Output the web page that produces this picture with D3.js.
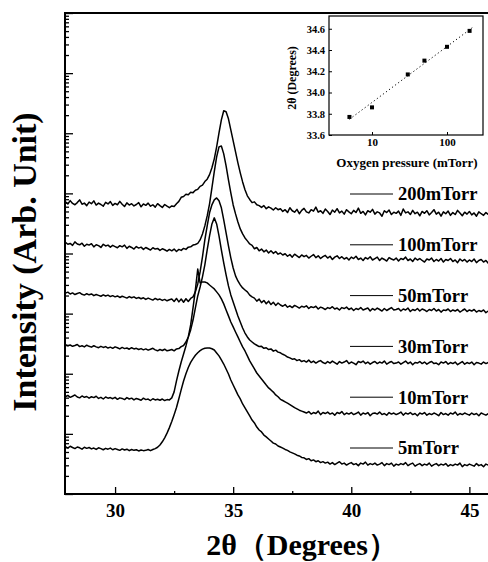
<!DOCTYPE html>
<html>
<head>
<meta charset="utf-8">
<script src="https://cdn.jsdelivr.net/npm/d3@7"></script>
<style>
  body { margin: 0; background: #fff; }
  svg text { font-family: "Liberation Serif", "Times New Roman", serif; font-weight: bold; fill: #000; }
</style>
</head>
<body>
<svg id="chart" width="488" height="562"></svg>
<script>
'use strict';

// 2theta grid (degrees), step 0.1, shared by all scans
const twoTheta = [
  27.9, 28.0, 28.1, 28.2, 28.3, 28.4, 28.5, 28.6, 28.7, 28.8,
  28.9, 29.0, 29.1, 29.2, 29.3, 29.4, 29.5, 29.6, 29.7, 29.8,
  29.9, 30.0, 30.1, 30.2, 30.3, 30.4, 30.5, 30.6, 30.7, 30.8,
  30.9, 31.0, 31.1, 31.2, 31.3, 31.4, 31.5, 31.6, 31.7, 31.8,
  31.9, 32.0, 32.1, 32.2, 32.3, 32.4, 32.5, 32.6, 32.7, 32.8,
  32.9, 33.0, 33.1, 33.2, 33.3, 33.4, 33.5, 33.6, 33.7, 33.8,
  33.9, 34.0, 34.1, 34.2, 34.3, 34.4, 34.5, 34.6, 34.7, 34.8,
  34.9, 35.0, 35.1, 35.2, 35.3, 35.4, 35.5, 35.6, 35.7, 35.8,
  35.9, 36.0, 36.1, 36.2, 36.3, 36.4, 36.5, 36.6, 36.7, 36.8,
  36.9, 37.0, 37.1, 37.2, 37.3, 37.4, 37.5, 37.6, 37.7, 37.8,
  37.9, 38.0, 38.1, 38.2, 38.3, 38.4, 38.5, 38.6, 38.7, 38.8,
  38.9, 39.0, 39.1, 39.2, 39.3, 39.4, 39.5, 39.6, 39.7, 39.8,
  39.9, 40.0, 40.1, 40.2, 40.3, 40.4, 40.5, 40.6, 40.7, 40.8,
  40.9, 41.0, 41.1, 41.2, 41.3, 41.4, 41.5, 41.6, 41.7, 41.8,
  41.9, 42.0, 42.1, 42.2, 42.3, 42.4, 42.5, 42.6, 42.7, 42.8,
  42.9, 43.0, 43.1, 43.2, 43.3, 43.4, 43.5, 43.6, 43.7, 43.8,
  43.9, 44.0, 44.1, 44.2, 44.3, 44.4, 44.5, 44.6, 44.7, 44.8,
  44.9, 45.0, 45.1, 45.2, 45.3, 45.4, 45.5, 45.6, 45.7, 45.8,
  45.9, 46.0
];

// intensity of each scan (counts), before the vertical offset
// rows: 27.9-32.3 | 32.4-36.9 | 37.0-46.0
const i200 = [
  104, 96, 109, 98, 93, 101, 112, 95, 99, 90, 103, 97, 108, 92, 99, 94, 88, 102, 96, 105,
  91, 98, 93, 106, 95, 87, 100, 92, 97, 89, 94, 101, 86, 96, 91, 99, 88, 93, 85, 97,
  90, 84, 94, 88, 83,
  89, 87, 97, 106, 124, 128, 139, 136, 150, 148, 162, 168, 188, 197, 226, 248, 295, 383, 540, 855, 1460, 2400,
  3400, 3270, 2500, 1640, 1075, 705, 464, 316, 223, 165, 131, 114, 101, 104, 93, 90, 84, 90, 80, 86, 82, 76, 83, 77,
  80, 72, 77, 69, 83, 74, 70, 78, 66, 75, 81, 71, 68, 77, 73, 85, 70, 74, 67, 79,
  72, 64, 76, 70, 80, 68, 73, 65, 77, 71, 66, 75, 69, 82, 67, 72, 63, 74, 70, 78,
  65, 71, 68, 60, 74, 69, 76, 64, 70, 67, 73, 62, 79, 68, 71, 64, 75, 66, 70, 61,
  72, 67, 74, 63, 69, 77, 65, 70, 60, 71, 66, 73, 62, 69, 64, 75, 68, 61, 70, 65,
  72, 63, 68, 60, 71, 66, 62, 69, 64, 67, 63
];
const i100 = [
  102, 95, 98, 91, 104, 96, 93, 99, 88, 95, 92, 97, 86, 93, 90, 84, 95, 89, 92, 85,
  91, 87, 83, 90, 86, 92, 81, 88, 84, 79, 87, 82, 85, 78, 84, 80, 76, 83, 79, 81,
  75, 80, 77, 73, 78,
  74, 79, 72, 78, 75, 81, 78, 85, 86, 92, 94, 98, 112, 141, 192, 281, 446, 823, 1530, 2700, 3950, 4100,
  3030, 1910, 1120, 680, 428, 304, 223, 171, 141, 121, 108, 96, 91, 80, 84, 74, 79, 71, 76, 68, 74, 67, 72, 65,
  68, 63, 66, 60, 64, 58, 65, 61, 57, 63, 59, 62, 56, 60, 64, 57, 61, 55, 59, 62,
  56, 60, 53, 58, 61, 55, 59, 54, 57, 52, 58, 55, 60, 53, 56, 51, 57, 54, 59, 52,
  55, 58, 51, 56, 53, 50, 57, 54, 52, 56, 50, 55, 53, 58, 51, 54, 49, 56, 52, 55,
  51, 48, 54, 52, 56, 49, 53, 50, 55, 48, 53, 51, 55, 49, 52, 47, 54, 50, 53, 48,
  52, 49, 54, 47, 51, 53, 48, 51, 46, 52, 49
];
const i50 = [
  99, 103, 96, 100, 94, 98, 101, 95, 92, 97, 93, 96, 90, 94, 91, 88, 93, 89, 92, 87,
  90, 86, 89, 84, 88, 85, 82, 87, 83, 86, 81, 84, 80, 83, 78, 82, 79, 76, 81, 77,
  79, 75, 78, 74, 77,
  79, 72, 81, 71, 79, 70, 80, 72, 81, 86, 104, 141, 223, 397, 762, 1300, 2150, 2920, 3530, 3800, 3400, 2600,
  1640, 1000, 605, 383, 260, 192, 158, 136, 121, 112, 104, 92, 86, 82, 73, 79, 69, 75, 66, 73, 64, 70, 62, 68,
  63, 60, 64, 58, 61, 57, 62, 59, 56, 60, 58, 61, 55, 59, 57, 60, 54, 58, 56, 53,
  57, 55, 59, 54, 56, 52, 57, 55, 58, 53, 56, 51, 55, 53, 57, 52, 54, 56, 50, 55,
  52, 56, 53, 50, 55, 51, 54, 57, 52, 53, 55, 50, 54, 52, 56, 49, 53, 51, 55, 50,
  54, 52, 49, 53, 51, 55, 50, 53, 48, 52, 51, 54, 49, 52, 50, 53, 48, 51, 54, 49,
  52, 50, 53, 48, 51, 49, 52, 47, 50, 52, 49
];
const i30 = [
  101, 97, 100, 95, 98, 102, 94, 97, 93, 99, 95, 92, 97, 93, 90, 95, 91, 94, 89, 92,
  88, 93, 90, 86, 91, 87, 89, 85, 90, 86, 88, 84, 87, 83, 86, 82, 85, 88, 83, 80,
  84, 81, 85, 80, 82,
  84, 80, 86, 87, 94, 98, 112, 136, 178, 260, 413, 654, 922, 1360, 2150, 3820, 6530, 10300, 13000, 10300, 6530, 3820,
  2310, 1460, 960, 680, 520, 398, 304, 241, 192, 158, 136, 121, 112, 104, 99, 94, 95, 88, 90, 84, 86, 79, 82, 76,
  74, 70, 67, 63, 61, 58, 59, 55, 57, 53, 55, 52, 56, 51, 54, 50, 53, 55, 51, 49,
  53, 50, 54, 51, 48, 53, 50, 52, 55, 49, 52, 50, 47, 53, 51, 54, 49, 52, 48, 51,
  53, 49, 52, 50, 54, 48, 51, 53, 49, 50, 52, 48, 51, 54, 49, 52, 47, 51, 50, 53,
  49, 52, 48, 51, 53, 49, 50, 47, 52, 50, 53, 48, 51, 49, 52, 47, 50, 53, 48, 51,
  49, 52, 47, 51, 50, 48, 52, 49, 51, 47, 50
];
const i10 = [
  97, 102, 95, 99, 104, 96, 93, 100, 95, 98, 92, 97, 94, 99, 91, 95, 89, 96, 92, 94,
  90, 95, 88, 93, 91, 87, 94, 89, 92, 86, 91, 88, 85, 92, 87, 89, 84, 90, 86, 88,
  85, 89, 84, 87, 86,
  93, 117, 178, 260, 368, 500, 680, 960, 1520, 2920, 5800, 12900, 7600, 7900, 7870, 7600, 7000, 6500, 6030, 5380, 4800, 4110,
  3400, 2700, 2150, 1700, 1410, 1160, 960, 790, 654, 560, 464, 383, 328, 281, 241, 215, 192, 171, 152, 136, 126, 116, 104, 97,
  88, 84, 80, 76, 72, 68, 64, 61, 58, 56, 54, 52, 55, 50, 53, 51, 56, 49, 53, 51,
  54, 50, 52, 48, 53, 51, 55, 49, 52, 50, 53, 49, 51, 54, 48, 52, 50, 53, 47, 51,
  52, 50, 54, 49, 51, 48, 53, 50, 52, 49, 51, 54, 48, 52, 50, 53, 49, 51, 47, 52,
  50, 53, 48, 51, 49, 52, 50, 47, 53, 49, 51, 48, 52, 50, 54, 48, 51, 49, 52, 50,
  48, 52, 49, 51, 47, 52, 50, 48, 51, 49, 51
];
const i5 = [
  101, 96, 103, 98, 94, 100, 97, 92, 99, 95, 98, 93, 96, 91, 97, 94, 90, 95, 92, 96,
  90, 94, 91, 88, 93, 89, 92, 87, 91, 88, 90, 86, 89, 87, 88, 91, 87, 91, 94, 99,
  108, 122, 142, 170, 210,
  265, 345, 455, 635, 900, 1250, 1650, 2100, 2550, 2950, 3350, 3700, 4000, 4250, 4400, 4440, 4420, 4300, 4110, 3670, 3280, 2800,
  2400, 1980, 1640, 1300, 1075, 890, 735, 630, 520, 446, 383, 328, 281, 251, 215, 192, 178, 158, 147, 136, 126, 116, 112, 104,
  100, 96, 91, 88, 83, 80, 77, 73, 71, 67, 66, 62, 64, 59, 61, 57, 59, 55, 57, 54,
  56, 52, 55, 51, 54, 57, 52, 54, 50, 53, 55, 51, 53, 49, 54, 52, 56, 50, 53, 51,
  54, 50, 52, 55, 49, 53, 51, 54, 48, 52, 50, 53, 51, 55, 49, 52, 54, 48, 51, 53,
  49, 52, 50, 54, 48, 51, 53, 49, 52, 50, 53, 48, 51, 49, 52, 50, 54, 47, 51, 49,
  52, 50, 48, 53, 49, 51, 47, 52, 50, 48, 51
];

const pressureLabels = ['200mTorr', '100mTorr', '50mTorr', '30mTorr', '10mTorr', '5mTorr'];
const scans = [i200, i100, i50, i30, i10, i5];
const offsetFactor = [695, 150, 22.1, 3.01, 0.427, 0.0605];

const xTicks = [30, 35, 40, 45];
const xMinorTicks = [32.5, 37.5, 42.5];

// inset: peak position vs oxygen pressure
const insetPressure = [5, 10, 30, 50, 100, 200];
const insetPeak = [33.77, 33.86, 34.17, 34.30, 34.43, 34.58];
const insetYTicks = [33.6, 33.8, 34.0, 34.2, 34.4, 34.6];
const insetXTicks = [10, 100];

const svg = d3.select('#chart');
const plotLeft = 65, plotTop = 13, plotBottom = 494, plotRight = 493;

const x = d3.scaleLinear().domain([27.88, 46]).range([plotLeft, plotRight]);
const y = d3.scaleLog().domain([1, 1e8]).range([plotBottom, plotTop]);

svg.append('clipPath').attr('id', 'plotClip')
  .append('rect').attr('x', plotLeft).attr('y', plotTop)
  .attr('width', plotRight - plotLeft).attr('height', plotBottom - plotTop);

// scans
const line = d3.line()
  .x((d, i) => x(twoTheta[i]))
  .y(d => y(d));

const curves = svg.append('g').attr('clip-path', 'url(#plotClip)');
scans.forEach((s, k) => {
  curves.append('path')
    .attr('d', line(s.map(v => v * offsetFactor[k])))
    .attr('fill', 'none')
    .attr('stroke', '#000')
    .attr('stroke-width', 1.5)
    .attr('stroke-linejoin', 'round');
});

// axes (ticks point inward)
const yMajor = d3.range(0, 9).map(e => Math.pow(10, e));
const yMinor = y.ticks().filter(t => yMajor.indexOf(t) < 0);

svg.append('g').attr('transform', `translate(${plotLeft},0)`)
  .call(d3.axisLeft(y).tickValues(yMinor).tickSize(-4).tickFormat(''))
  .call(g => g.select('.domain').remove());
svg.append('g').attr('transform', `translate(${plotLeft},0)`)
  .call(d3.axisLeft(y).tickValues(yMajor).tickSize(-8).tickFormat(''))
  .call(g => g.select('.domain').remove());

const xAxis = svg.append('g').attr('transform', `translate(0,${plotBottom})`)
  .call(d3.axisBottom(x).tickValues(xTicks).tickSizeInner(-7).tickSizeOuter(0).tickPadding(10).tickFormat(d3.format('d')))
  .call(g => g.select('.domain').remove());
xAxis.selectAll('text').style('font-size', '19px');
svg.append('g').attr('transform', `translate(0,${plotBottom})`)
  .call(d3.axisBottom(x).tickValues(xMinorTicks).tickSize(-3).tickFormat(''))
  .call(g => g.select('.domain').remove());
svg.selectAll('.tick line').attr('stroke-width', 1.3);

// frame
svg.append('path')
  .attr('d', `M${plotRight + 5},${plotTop}H${plotLeft}V${plotBottom}H${plotRight + 5}`)
  .attr('fill', 'none').attr('stroke', '#000').attr('stroke-width', 2);

// legend
const legend = svg.append('g');
pressureLabels.forEach((lab, k) => {
  const ly = 194 + k * 50.8;
  legend.append('line').attr('x1', 350).attr('x2', 393).attr('y1', ly).attr('y2', ly)
    .attr('stroke', '#000').attr('stroke-width', 1);
  legend.append('text').attr('x', 398).attr('y', ly).attr('dy', '0.35em')
    .style('font-size', '18.5px').text(lab);
});

// axis titles
svg.append('text')
  .attr('transform', 'translate(24,262) rotate(-90)')
  .attr('text-anchor', 'middle').attr('dy', '0.35em')
  .style('font-size', '34px')
  .text('Intensity (Arb. Unit)');
svg.append('text')
  .attr('x', 302).attr('y', 555).attr('text-anchor', 'middle')
  .style('font-size', '30px')
  .text('2θ（Degrees）');

// inset
const ix = d3.scaleLog().domain([2.67, 302]).range([329, 483]);
const iy = d3.scaleLinear().domain([33.6, 34.72]).range([135, 16]);
const inset = svg.append('g');
inset.append('rect').attr('x', 329).attr('y', 16).attr('width', 154).attr('height', 119)
  .attr('fill', '#fff').attr('stroke', '#000').attr('stroke-width', 1.2);

inset.append('g').attr('transform', 'translate(329,0)')
  .call(d3.axisLeft(iy).tickValues(insetYTicks).tickSize(-3).tickPadding(4).tickFormat(d3.format('.1f')))
  .call(g => g.select('.domain').remove())
  .call(g => g.selectAll('text').style('font-size', '10.5px'));
inset.append('g').attr('transform', 'translate(0,135)')
  .call(d3.axisBottom(ix).tickValues(insetXTicks).tickSize(-3).tickPadding(3).tickFormat(d3.format('d')))
  .call(g => g.select('.domain').remove())
  .call(g => g.selectAll('text').style('font-size', '11px'));

// least-squares fit in log(pressure)
const lx = insetPressure.map(Math.log10);
const mx = d3.mean(lx), my = d3.mean(insetPeak);
const slope = d3.sum(lx, (v, i) => (v - mx) * (insetPeak[i] - my)) / d3.sum(lx, v => (v - mx) * (v - mx));
const fitEnds = [insetPressure[0], insetPressure[insetPressure.length - 1] * 1.15];
inset.append('line')
  .attr('x1', ix(fitEnds[0])).attr('y1', iy(my + slope * (Math.log10(fitEnds[0]) - mx)))
  .attr('x2', ix(fitEnds[1])).attr('y2', iy(my + slope * (Math.log10(fitEnds[1]) - mx)))
  .attr('stroke', '#000').attr('stroke-width', 1).attr('stroke-dasharray', '1.2,2.6');

inset.selectAll('rect.pt').data(insetPressure).join('rect')
  .attr('class', 'pt')
  .attr('x', (d) => ix(d) - 2).attr('y', (d, i) => iy(insetPeak[i]) - 2)
  .attr('width', 4).attr('height', 4).attr('fill', '#000');

inset.append('text').attr('x', 407).attr('y', 167).attr('text-anchor', 'middle')
  .style('font-size', '13px').text('Oxygen pressure (mTorr)');
inset.append('text')
  .attr('transform', 'translate(292,78) rotate(-90)')
  .attr('text-anchor', 'middle').attr('dy', '0.35em')
  .style('font-size', '12px').text('2θ (Degrees)');
</script>
</body>
</html>
